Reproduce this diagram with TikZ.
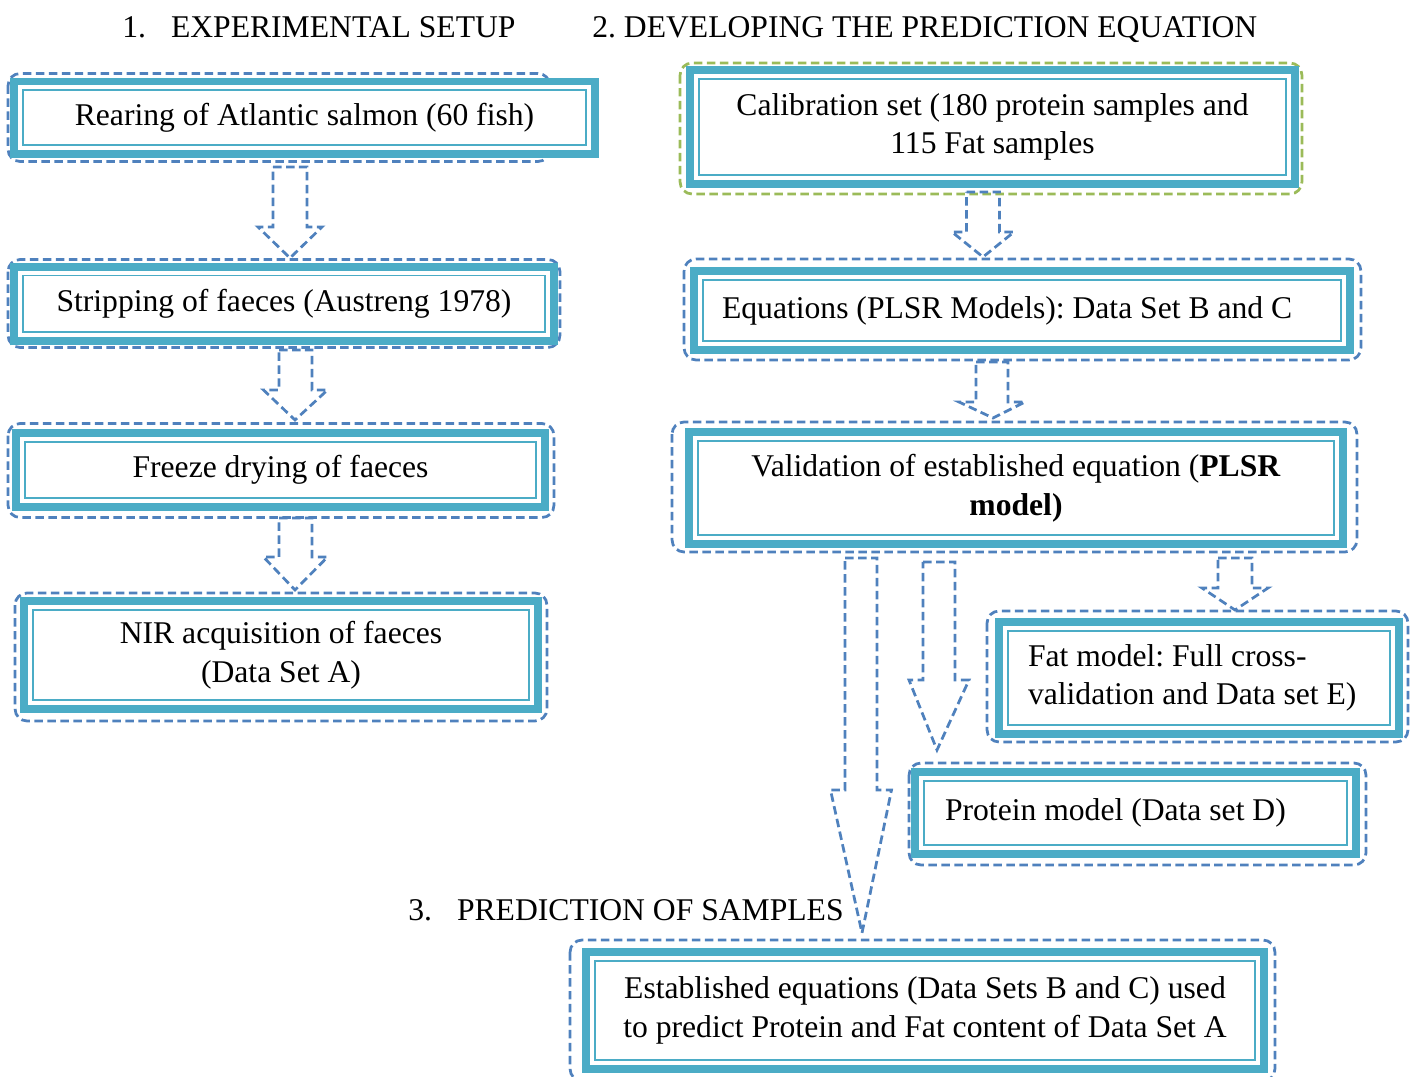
\documentclass[tikz,border=0pt]{standalone}
\usepackage{fontspec}
\setmainfont{Liberation Serif}
\usetikzlibrary{calc,backgrounds}

\definecolor{boxteal}{HTML}{4BACC6}
\definecolor{dashblue}{HTML}{4F81BD}
\definecolor{dashgreen}{HTML}{9BBB59}

% hollow block arrow: top centre, tip, half shaft, half head, head length
\newcommand{\bigarrow}[5]{\draw[arrowline] let \p1=(#1), \p2=(#2) in
  (\x1-#3,\y1) -- (\x1+#3,\y1) -- (\x1+#3,\y2+#5) -- (\x1+#4,\y2+#5) -- (\x2,\y2)
  -- (\x1-#4,\y2+#5) -- (\x1-#3,\y2+#5) -- cycle;}

\begin{document}
\begin{tikzpicture}[x=0.02cm, y=-0.02cm,
    font=\fontsize{18}{22}\selectfont\frenchspacing,
    stepbox/.style={draw=boxteal, line width=0.16cm, fill=white, align=center, inner sep=0pt,
      path picture={\draw[boxteal, line width=0.04cm]
        ([shift={(0.18cm,-0.18cm)}]path picture bounding box.north west) rectangle
        ([shift={(-0.18cm,0.18cm)}]path picture bounding box.south east);}},
    frame/.style={draw=dashblue, line width=0.055cm, dash pattern=on 0.17cm off 0.09cm, rounded corners=0.24cm},
    arrowline/.style={draw=dashblue, line width=0.055cm, dash pattern=on 0.17cm off 0.09cm, line join=miter},
    title/.style={anchor=base west, inner sep=0pt}]
  \useasboundingbox (0,0) rectangle (1418,1077);

  % headings
  \node[title] (t1) at (122,38) {1.\hspace{0.5cm}EXPERIMENTAL SETUP};
  \node[title] (t2) at (592,38) {2. DEVELOPING THE PREDICTION EQUATION};
  \node[title] (t3) at (408,921) {3.\hspace{0.5cm}PREDICTION OF SAMPLES};

  % 1. experimental setup
  \node[stepbox, minimum width=11.62cm, minimum height=1.46cm] (rear) at (304.5,118) {Rearing of Atlantic salmon (60 fish)};
  \node[stepbox, minimum width=10.8cm, minimum height=1.5cm] (strip) at (284,304) {Stripping of faeces (Austreng 1978)};
  \node[stepbox, minimum width=10.58cm, minimum height=1.5cm] (freeze) at (280.5,470) {Freeze drying of faeces};
  \node[stepbox, minimum width=10.28cm, minimum height=2.16cm] (nir) at (281,655) {NIR acquisition of faeces\\(Data Set A)};

  % 2. prediction equation
  \node[stepbox, minimum width=12.1cm, minimum height=2.28cm] (calib) at (992.5,127) {Calibration set (180 protein samples and\\115 Fat samples};
  \node[stepbox, align=flush left, inner xsep=0.56cm, text width=12cm, minimum height=1.58cm] (plsr) at (1022,310.5) {Equations (PLSR Models): Data Set B and C};
  \node[stepbox, minimum width=13.08cm, minimum height=2.24cm] (valid) at (1016,488) {Validation of established equation (\textbf{PLSR}\\\textbf{model)}};
  \node[stepbox, align=flush left, inner xsep=0.58cm, text width=6.84cm, minimum height=2.24cm] (fat) at (1199,678) {Fat model: Full cross-\\validation and Data set E)};
  \node[stepbox, align=flush left, inner xsep=0.6cm, text width=7.62cm, minimum height=1.64cm] (prot) at (1135.5,813) {Protein model (Data set D)};

  % 3. prediction
  \node[stepbox, minimum width=13.56cm, minimum height=2.34cm] (pred) at (925,1010.5) {Established equations (Data Sets B and C) used\\to predict Protein and Fat content of Data Set A};

  % dashed outlines behind the boxes
  \begin{scope}[on background layer]
    \foreach \n/\l/\t/\r/\b in {rear/-2/-4/-49/3, strip/-2/-3/2/2, freeze/-4/-5/5/6, nir/-5/-4/5/8,
        plsr/-6/-8/7/6, valid/-13/-6/10/4, fat/-8/-7/5/4, prot/-2/-5/6/7, pred/-12/-8/7/8}
      \draw[frame] ([shift={(\l,\t)}]\n.north west) rectangle ([shift={(\r,\b)}]\n.south east);
    \draw[frame, draw=dashgreen] ([shift={(-6,-3)}]calib.north west) rectangle ([shift={(3,6)}]calib.south east);
  \end{scope}

  % block arrows
  \coordinate (a1s) at (290,167);   \coordinate (a1e) at (290,258);
  \coordinate (a2s) at (295.5,350); \coordinate (a2e) at (295,420);
  \coordinate (a3s) at (295.5,518); \coordinate (a3e) at (295,590);
  \coordinate (a4s) at (983,192);   \coordinate (a4e) at (983,257);
  \coordinate (a5s) at (992,362);   \coordinate (a5e) at (993,418);
  \coordinate (a6s) at (1235,558);  \coordinate (a6e) at (1235,610);
  \coordinate (a7s) at (939,562);   \coordinate (a7e) at (937,750);
  \coordinate (a8s) at (861,558);   \coordinate (a8e) at (862,933);
  \foreach \s/\e/\w/\h/\l in {a1s/a1e/0.34cm/0.64cm/0.62cm, a2s/a2e/0.33cm/0.64cm/0.6cm,
      a3s/a3e/0.33cm/0.64cm/0.66cm, a4s/a4e/0.33cm/0.62cm/0.5cm, a5s/a5e/0.32cm/0.66cm/0.32cm,
      a6s/a6e/0.34cm/0.66cm/0.44cm, a7s/a7e/0.32cm/0.6cm/1.4cm, a8s/a8e/0.32cm/0.61cm/2.86cm}
    {\bigarrow{\s}{\e}{\w}{\h}{\l}}
\end{tikzpicture}
\end{document}
